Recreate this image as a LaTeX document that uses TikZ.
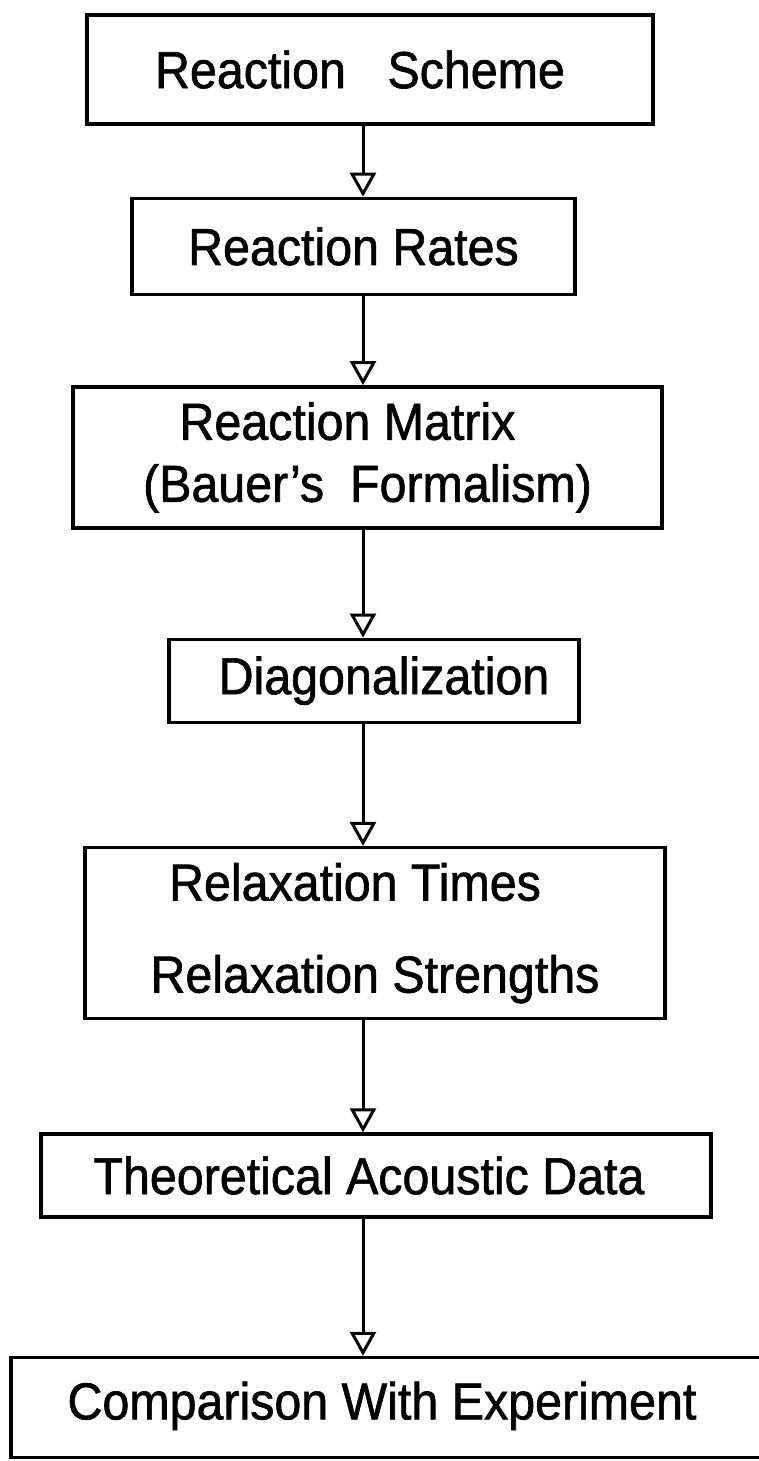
\documentclass[tikz,border=0pt]{standalone}
\usepackage{fontspec}
\setmainfont[FakeStretch=0.93, FakeBold=1.2]{Liberation Sans}
\usetikzlibrary{arrows.meta, positioning}

\begin{document}
\begin{tikzpicture}[
        x=1pt, y=-1pt,
        stage/.style={rectangle, draw, line width=3.4pt, inner sep=0pt, align=center, font=\fontsize{52}{62}\selectfont},
        flow/.style={-{Triangle[open, width=26pt, length=24pt]}, line width=3pt}
    ]
    \useasboundingbox (0,0) rectangle (759,1461);
    \coordinate (spine) at (363,0);

    \node[stage, minimum width=566pt, minimum height=109pt] (scheme) at (370,69.5) {Reaction\hspace{0.8em}Scheme\hspace*{20pt}};
    \node[stage, minimum width=443pt, minimum height=96pt, below=71pt of scheme, xshift=-16.5pt] (rates) {Reaction Rates};
    \node[stage, minimum width=589pt, minimum height=141pt, below=89pt of rates, xshift=14pt] (matrix) {Reaction Matrix\hspace*{40pt}\\(Bauer's\hspace{0.5em}Formalism)};
    \node[stage, minimum width=410pt, minimum height=83pt, below=108pt of matrix, xshift=6.5pt] (diag) {\hspace*{20pt}Diagonalization};
    \node[stage, minimum width=580pt, minimum height=171pt, below=122pt of diag, xshift=1pt] (relax) {Relaxation Times\hspace*{40pt}\\[30pt]Relaxation Strengths};
    \node[stage, minimum width=670pt, minimum height=83pt, below=112pt of relax, xshift=1pt] (theory) {Theoretical Acoustic Data\hspace*{14pt}};
    \node[stage, minimum width=780pt, minimum height=100pt] (compare) at (401,1407.5) {\raisebox{14pt}{Comparison With Experiment}\hspace*{38pt}};

    \draw[flow] (scheme.south -| spine) -- (rates.north -| spine);
    \draw[flow] (rates.south -| spine) -- (matrix.north -| spine);
    \draw[flow] (matrix.south -| spine) -- (diag.north -| spine);
    \draw[flow] (diag.south -| spine) -- (relax.north -| spine);
    \draw[flow] (relax.south -| spine) -- (theory.north -| spine);
    \draw[flow] (theory.south -| spine) -- (compare.north -| spine);

\end{tikzpicture}
\end{document}
